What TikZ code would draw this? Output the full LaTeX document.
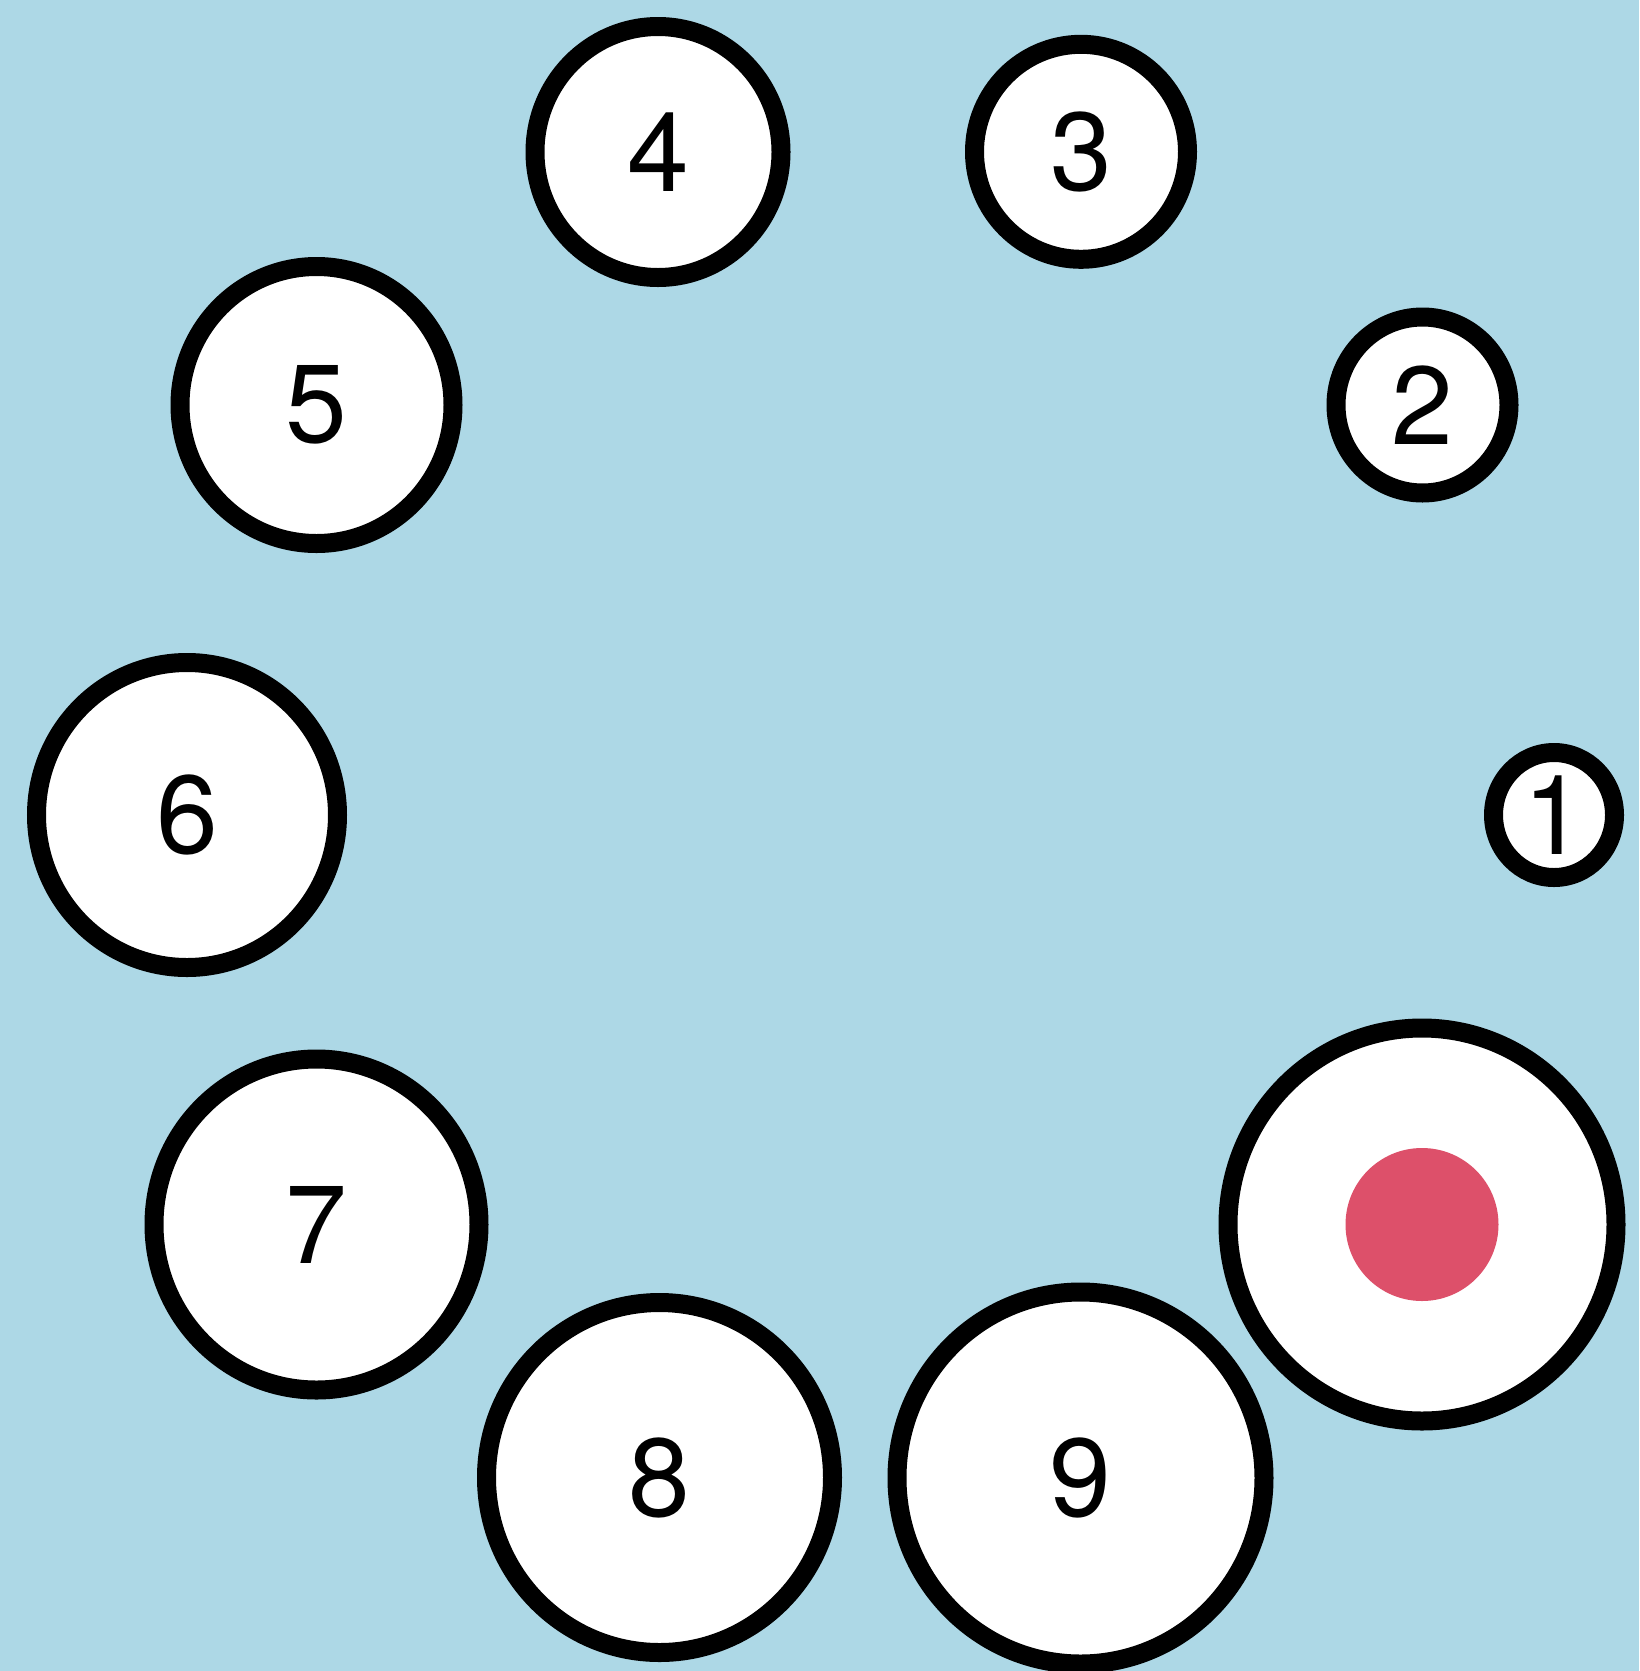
\documentclass[tikz,border=0pt]{standalone}
\usepackage{fontspec}
\setmainfont{TeX Gyre Heros}
\usetikzlibrary{shapes.geometric}
\definecolor{bgblue}{HTML}{ADD8E6}
\definecolor{dotred}{RGB}{221,80,106}
\begin{document}
\begin{tikzpicture}[x=1pt,y=-1pt,
  ring/.style={ellipse, draw=black, line width=19pt, fill=white, inner sep=0pt,
    font=\fontsize{111}{120}\selectfont},
  reddot/.style={circle, fill=dotred, draw=none, inner sep=0pt, minimum size=153pt}
]
\fill[bgblue] (0,0) rectangle (1639,1671);
\useasboundingbox (0,0) rectangle (1639,1671);
\node[ring, minimum width=121pt, minimum height=125pt] (c1) at (1554,815) {1};
\node[ring, minimum width=173pt, minimum height=176pt] (c2) at (1422.5,405) {2};
\node[ring, minimum width=213pt, minimum height=215pt] (c3) at (1081,151.8) {3};
\node[ring, minimum width=246pt, minimum height=251pt] (c4) at (658,152) {4};
\node[ring, minimum width=273pt, minimum height=277pt] (c5) at (316.5,405) {5};
\node[ring, minimum width=301pt, minimum height=305pt] (c6) at (187,815) {6};
\node[ring, minimum width=325pt, minimum height=331pt] (c7) at (316.5,1224.5) {7};
\node[ring, minimum width=346pt, minimum height=350pt] (c8) at (659.5,1477.5) {8};
\node[ring, minimum width=367pt, minimum height=372pt] (c9) at (1080.5,1478) {9};
\node[ring, minimum width=388pt, minimum height=393pt] (c10) at (1422,1224.5) {};
\node[reddot] (dot) at (c10.center) {};
\end{tikzpicture}
\end{document}
